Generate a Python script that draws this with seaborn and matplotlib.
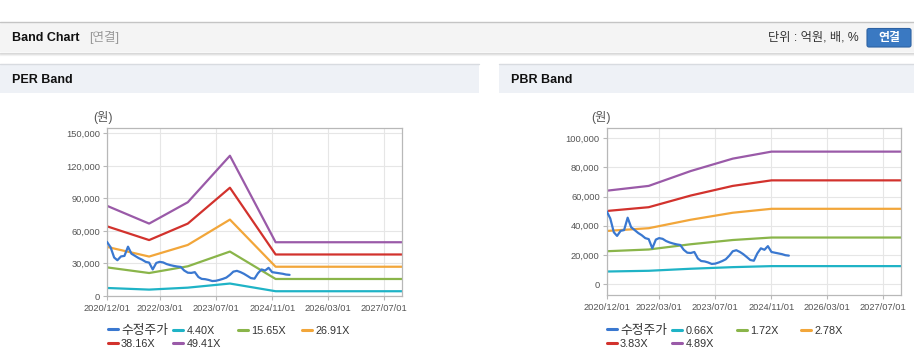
import numpy as np
import pandas as pd
import matplotlib
matplotlib.use("Agg")
import matplotlib.pyplot as plt
import matplotlib.dates as mdates
from matplotlib.patches import Rectangle, FancyBboxPatch
from matplotlib.ticker import FuncFormatter
import seaborn as sns

# === DATA ===
# adjusted price (수정주가), monthly from 2020/12
price_start = "2020-12-01"
price = [49900, 45000, 35500, 33000, 36500, 37000, 45500, 39000, 37000, 35000,
         33500, 31500, 30800, 24500, 30500, 31500, 31000, 29500, 28500, 27800,
         27200, 26800, 23500, 21500, 21300, 22000, 17500, 15800, 15500, 14800,
         13800, 14000, 14800, 15800, 17000, 19500, 22500, 23200, 22000, 20500,
         18500, 16500, 16000, 21000, 24500, 23500, 26000, 22000, 21500, 21000,
         20500, 19800, 19500]

# PER band
per_dates = ["2020-12-01", "2021-12-01", "2022-11-01", "2023-11-01", "2024-12-01", "2027-12-01"]
per_labels = ["4.40X", "15.65X", "26.91X", "38.16X", "49.41X"]
per_440 = [7400, 5900, 7700, 11500, 4400, 4400]
per_1565 = [26400, 21200, 27400, 41000, 15700, 15700]
per_2691 = [45300, 36400, 47100, 70500, 27000, 27000]
per_3816 = [64300, 51600, 66800, 99900, 38300, 38300]
per_4941 = [83200, 66800, 86500, 129400, 49600, 49600]

# PBR band
pbr_dates = ["2020-12-01", "2021-12-01", "2022-12-01", "2023-12-01", "2024-11-01", "2027-12-01"]
pbr_labels = ["0.66X", "1.72X", "2.78X", "3.83X", "4.89X"]
pbr_066 = [8600, 9100, 10500, 11600, 12300, 12300]
pbr_172 = [22500, 23700, 27300, 30200, 31900, 31900]
pbr_278 = [36400, 38300, 44100, 48900, 51600, 51600]
pbr_383 = [50100, 52700, 60700, 67300, 71100, 71100]
pbr_489 = [64000, 67300, 77500, 86000, 90800, 90800]

xtick_dates = ["2020-12-01", "2022-03-01", "2023-07-01", "2024-11-01", "2026-03-01", "2027-07-01"]
per_yticks = [0, 30000, 60000, 90000, 120000, 150000]
pbr_yticks = [0, 20000, 40000, 60000, 80000, 100000]

PRICE_COLOR = "#3a78d0"
BAND_COLORS = ["#1fb3c6", "#8ab54a", "#f2a63a", "#d2322d", "#9a5aa8"]

W, H = 914, 364

sns.set_style("white")
plt.rcParams['font.family'] = ['Liberation Sans', 'Noto Sans CJK KR']

fig = plt.figure(figsize=(W / 100, H / 100), dpi=100)


def px(x0, y0, w, h):
    """pixel box (top-left origin) -> figure fraction"""
    return [x0 / W, 1 - (y0 + h) / H, w / W, h / H]


# === PAGE BACKGROUND ===
bg = fig.add_axes([0, 0, 1, 1], zorder=-10)
bg.set_xlim(0, W)
bg.set_ylim(H, 0)
bg.axis("off")
bg.add_patch(Rectangle((0, 22), W, 30, color="#f4f4f4", lw=0))
bg.plot([0, W], [22, 22], color="#c4c4c4", lw=1)
for i, a in enumerate([0.35, 0.2, 0.1]):
    bg.plot([0, W], [52.5 + i, 52.5 + i], color="#9a9a9a", alpha=a, lw=1)
bg.add_patch(Rectangle((0, 64), 479, 29, color="#eef1f6", lw=0))
bg.add_patch(Rectangle((499, 64), W - 499, 29, color="#eef1f6", lw=0))
bg.plot([0, 479], [64, 64], color="#d8dbe0", lw=1)
bg.plot([499, W], [64, 64], color="#d8dbe0", lw=1)

bg.text(12, 38, "Band Chart", fontsize=9, fontweight="bold", va="center", color="#111")
bg.text(89, 38, "[연결]", fontsize=9, va="center", color="#999")
bg.text(859, 38, "단위 : 억원, 배, %", fontsize=8.8, va="center", ha="right", color="#333")
bg.add_patch(FancyBboxPatch((867, 28.5), 44, 18.5, boxstyle="round,pad=0,rounding_size=2",
                            fc="#3a79c2", ec="#2d62a3", lw=0.8))
bg.text(889, 38, "연결", fontsize=8.6, fontweight="bold", va="center", ha="center", color="white")
bg.text(12, 80, "PER Band", fontsize=9, fontweight="bold", va="center", color="#111")
bg.text(511, 80, "PBR Band", fontsize=9, fontweight="bold", va="center", color="#111")

# legend grid cells (px offsets from legend origin), one per entry
LEG_CELLS = [(0, 0), (65.5, 0), (130, 0), (194, 0), (0, 13.3), (65.5, 13.3)]
LEG_ROW0 = 330.7


def draw_band(ax, band_dates, bands, labels, yticks, ylim, legend_x, unit_x):
    pdates = pd.date_range(price_start, periods=len(price), freq="MS")
    bdates = pd.to_datetime(band_dates)
    sns.lineplot(x=pdates, y=price, ax=ax, color=PRICE_COLOR, lw=1.6, label="수정주가", zorder=5)
    for vals, lab, col in zip(bands, labels, BAND_COLORS):
        sns.lineplot(x=bdates, y=vals, ax=ax, color=col, lw=1.6, label=lab)

    ax.set_xlim(pd.Timestamp("2020-12-01"), pd.Timestamp("2027-12-01"))
    ax.set_ylim(*ylim)
    ax.set_xticks(pd.to_datetime(xtick_dates))
    ax.xaxis.set_major_formatter(mdates.DateFormatter("%Y/%m/%d"))
    ax.set_yticks(yticks)
    ax.yaxis.set_major_formatter(FuncFormatter(lambda v, p: f"{int(v):,}"))
    ax.set_xlabel("")
    ax.set_ylabel("")
    ax.grid(True, color="#e6e6e6", lw=0.8)
    ax.set_axisbelow(True)
    for s in ax.spines.values():
        s.set_color("#b8b8b8")
        s.set_linewidth(0.9)
    ax.tick_params(axis="both", labelsize=6.7, colors="#b8b8b8", labelcolor="#555",
                   length=3, width=0.8, pad=2)
    ax.tick_params(axis="x", bottom=True, pad=3)
    ax.tick_params(axis="y", left=True)

    # one small legend per cell so the grid stays fixed like the web widget
    handles, labs = ax.get_legend_handles_labels()
    ax.get_legend().remove()
    legs = []
    for h, lab, (dx, dy) in zip(handles, labs, LEG_CELLS):
        leg = ax.legend([h], [lab], loc="center left",
                        bbox_to_anchor=((legend_x + dx) / W, 1 - (LEG_ROW0 + dy) / H),
                        bbox_transform=fig.transFigure, frameon=False,
                        fontsize=9.2 if lab == "수정주가" else 7.8,
                        handlelength=0.95 * (7.8 / 9.2 if lab == "수정주가" else 1),
                        handletextpad=0.3, borderpad=0, borderaxespad=0)
        leg.get_texts()[0].set_color("#333")
        leg.legend_handles[0].set_linewidth(2.2)
        legs.append(leg)
    for leg in legs[:-1]:
        ax.add_artist(leg)

    fig.text(unit_x / W, 1 - 118 / H, "(원)", fontsize=8.8, color="#555",
             ha="center", va="center")


ax1 = fig.add_axes(px(107, 128, 295, 168))
draw_band(ax1, per_dates, [per_440, per_1565, per_2691, per_3816, per_4941], per_labels,
          per_yticks, (0, 155000), 107.5, 102.5)

ax2 = fig.add_axes(px(606.7, 128, 294.3, 167))
draw_band(ax2, pbr_dates, [pbr_066, pbr_172, pbr_278, pbr_383, pbr_489], pbr_labels,
          pbr_yticks, (-7500, 107000), 606.5, 601)

fig.savefig("out.png", dpi=100)
